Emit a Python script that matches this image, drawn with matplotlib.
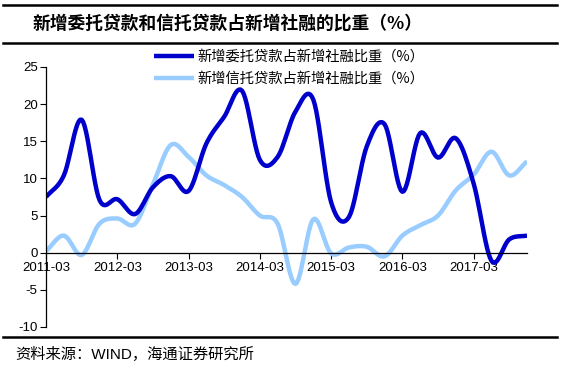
import numpy as np
import matplotlib
matplotlib.use("Agg")
import matplotlib.pyplot as plt
from matplotlib.lines import Line2D

plt.rcParams['font.family'] = ['Liberation Sans', 'Noto Sans CJK SC', 'DejaVu Sans']
plt.rcParams['axes.unicode_minus'] = False

# quarterly data, 2011-03 .. 2017-12
quarters = ['2011-03', '2011-06', '2011-09', '2011-12', '2012-03', '2012-06', '2012-09', '2012-12',
            '2013-03', '2013-06', '2013-09', '2013-12', '2014-03', '2014-06', '2014-09', '2014-12',
            '2015-03', '2015-06', '2015-09', '2015-12', '2016-03', '2016-06', '2016-09', '2016-12',
            '2017-03', '2017-06', '2017-09', '2017-12']
entrusted = [7.5, 10.4, 17.9, 7.1, 7.2, 5.2, 8.8, 10.3, 8.3, 14.7, 18.3, 21.8, 12.5, 12.9,
             19.0, 20.6, 6.8, 4.8, 14.3, 17.3, 8.2, 16.1, 12.8, 15.4, 9.3, -1.1, 1.8, 2.3]
trust = [0.2, 2.3, -0.3, 3.9, 4.6, 3.9, 9.2, 14.5, 12.9, 10.4, 9.1, 7.5, 5.0, 3.9,
         -4.2, 4.5, -0.1, 0.7, 0.8, -0.5, 2.3, 3.7, 5.0, 8.4, 10.5, 13.6, 10.4, 12.3]
xticks = ['2011-03', '2012-03', '2013-03', '2014-03', '2015-03', '2016-03', '2017-03']

label1 = '新增委托贷款占新增社融比重（%）'
label2 = '新增信托贷款占新增社融比重（%）'


def smooth(y, n=12):
    # Catmull-Rom curve through the points, like Excel's smoothed lines
    y = np.asarray(y, float)
    x = np.arange(len(y), dtype=float)
    px = np.concatenate([[2 * x[0] - x[1]], x, [2 * x[-1] - x[-2]]])
    py = np.concatenate([[2 * y[0] - y[1]], y, [2 * y[-1] - y[-2]]])
    xs, ys = [], []
    t = np.linspace(0, 1, n, endpoint=False)
    for i in range(1, len(px) - 2):
        for p, out in ((px, xs), (py, ys)):
            p0, p1, p2, p3 = p[i - 1], p[i], p[i + 1], p[i + 2]
            out.extend(0.5 * (2 * p1 + (-p0 + p2) * t + (2 * p0 - 5 * p1 + 4 * p2 - p3) * t ** 2
                              + (-p0 + 3 * p1 - 3 * p2 + p3) * t ** 3))
    xs.append(x[-1])
    ys.append(y[-1])
    return np.array(xs), np.array(ys)


fig = plt.figure(figsize=(5.64, 3.72), dpi=100)
ax = fig.add_axes([0.0816, 0.121, 0.853, 0.699])

x = np.arange(len(quarters))
sx, sy = smooth(trust)
l2, = ax.plot(sx, sy, color='#99CCFF', lw=3.2, solid_capstyle='butt')
sx, sy = smooth(entrusted)
l1, = ax.plot(sx, sy, color='#0000CC', lw=3.2, solid_capstyle='butt')

ax.set_xlim(0, len(quarters) - 1)
ax.set_ylim(-10, 25)
ax.set_yticks(range(-10, 26, 5))
ax.set_xticks([quarters.index(q) for q in xticks])
ax.set_xticklabels(xticks)
for s in ['top', 'right']:
    ax.spines[s].set_visible(False)
ax.spines['bottom'].set_position(('data', 0))
ax.spines['left'].set_linewidth(0.9)
ax.spines['bottom'].set_linewidth(0.9)
ax.tick_params(axis='both', labelsize=9.5, direction='out', length=4, width=0.8, pad=2)
ax.tick_params(axis='x', pad=3)

ax.legend([l1, l2], [label1, label2], loc='upper left', bbox_to_anchor=(0.225, 1.065),
          frameon=False, handlelength=2.8, handletextpad=0.2, labelspacing=0.55,
          borderpad=0, borderaxespad=0,
          prop={'family': ['Noto Sans CJK SC', 'DejaVu Sans'], 'size': 10.3})

# title and rules
fig.add_artist(Line2D([0.005, 0.987], [1 - 5 / 372] * 2, color='black', lw=1.8))
fig.add_artist(Line2D([0.005, 0.987], [1 - 43 / 372] * 2, color='black', lw=1.8))
fig.add_artist(Line2D([0.005, 0.987], [1 - 337 / 372] * 2, color='black', lw=1.8))
fig.text(0.058, 1 - 24 / 372, '新增委托贷款和信托贷款占新增社融的比重（%）', fontsize=12.8,
         fontweight='bold', va='center', ha='left', family=['Noto Sans CJK SC', 'DejaVu Sans'])
fig.text(0.027, 1 - 354 / 372, '资料来源：WIND，海通证券研究所', fontsize=11, va='center',
         ha='left', family=['Liberation Sans', 'Noto Sans CJK SC', 'DejaVu Sans'])

fig.savefig('out.png', dpi=100)
